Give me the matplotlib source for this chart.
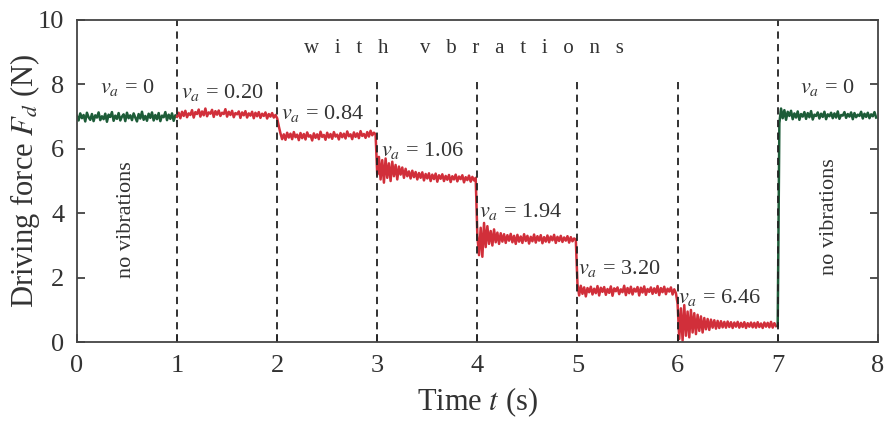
import numpy as np
import matplotlib
matplotlib.use("Agg")
from matplotlib import pyplot as plt

plt.rcParams["font.family"] = ["Liberation Serif", "DejaVu Serif"]
plt.rcParams["mathtext.fontset"] = "stix"

# force readings (N), 60 samples per one-second segment
seg0 = [7.02, 6.88, 7.10, 6.95, 7.05, 6.85, 7.12, 6.98, 6.90, 7.08, 6.86, 7.04, 6.97, 7.13, 6.89,
        7.01, 6.92, 7.09, 6.84, 7.06, 6.99, 7.14, 6.87, 7.03, 6.93, 7.11, 6.88, 7.00, 7.07, 6.86,
        7.12, 6.95, 7.04, 6.89, 7.10, 6.97, 6.85, 7.08, 6.94, 7.15, 6.90, 7.02, 6.87, 7.09, 6.96,
        7.13, 6.88, 7.05, 6.92, 7.11, 6.86, 7.03, 6.98, 7.14, 6.89, 7.06, 6.93, 7.10, 6.87, 7.04]
seg1 = [7.00, 7.12, 6.95, 7.15, 7.02, 7.18, 6.98, 7.10, 7.05, 7.20, 6.97, 7.14, 7.08, 7.22, 7.00,
        7.16, 7.04, 7.25, 7.01, 7.13, 7.09, 7.21, 6.99, 7.17, 7.06, 7.19, 7.02, 7.12, 7.08, 7.23,
        7.00, 7.15, 7.05, 7.18, 6.98, 7.11, 7.07, 7.16, 6.96, 7.13, 7.04, 7.17, 6.97, 7.10, 7.03,
        7.15, 6.95, 7.12, 7.01, 7.14, 6.96, 7.09, 7.02, 7.13, 6.94, 7.08, 7.00, 7.11, 6.97, 7.05]
seg2 = [6.95, 6.70, 6.48, 6.30, 6.45, 6.28, 6.50, 6.35, 6.47, 6.30, 6.52, 6.36, 6.44, 6.27, 6.49,
        6.33, 6.46, 6.29, 6.51, 6.38, 6.42, 6.26, 6.48, 6.34, 6.45, 6.30, 6.53, 6.37, 6.43, 6.28,
        6.50, 6.35, 6.46, 6.31, 6.52, 6.38, 6.44, 6.29, 6.49, 6.36, 6.47, 6.32, 6.54, 6.39, 6.45,
        6.30, 6.51, 6.37, 6.48, 6.33, 6.55, 6.40, 6.46, 6.34, 6.52, 6.38, 6.56, 6.42, 6.50, 6.45]
seg3 = [5.20, 5.75, 5.05, 5.65, 4.95, 5.70, 5.10, 5.55, 5.00, 5.60, 5.15, 5.50, 5.05, 5.45, 5.20,
        5.42, 5.10, 5.38, 5.15, 5.30, 5.08, 5.32, 5.12, 5.28, 5.05, 5.25, 5.10, 5.27, 5.02, 5.22,
        5.08, 5.24, 5.00, 5.20, 5.06, 5.23, 4.98, 5.18, 5.07, 5.21, 5.00, 5.16, 5.04, 5.19, 4.97,
        5.15, 5.05, 5.20, 4.99, 5.14, 5.06, 5.18, 4.96, 5.12, 5.03, 5.17, 4.98, 5.13, 5.02, 5.10]
seg4 = [3.30, 2.70, 3.55, 2.65, 3.70, 2.95, 3.60, 3.05, 3.45, 3.00, 3.50, 3.10, 3.40, 3.05, 3.38,
        3.12, 3.35, 3.08, 3.32, 3.15, 3.36, 3.10, 3.30, 3.05, 3.33, 3.12, 3.28, 3.08, 3.35, 3.14,
        3.30, 3.06, 3.27, 3.13, 3.34, 3.09, 3.29, 3.15, 3.32, 3.07, 3.26, 3.12, 3.31, 3.10, 3.28,
        3.16, 3.33, 3.08, 3.27, 3.14, 3.30, 3.11, 3.25, 3.15, 3.29, 3.09, 3.26, 3.13, 3.22, 3.18]
seg5 = [1.80, 1.45, 1.75, 1.50, 1.70, 1.42, 1.68, 1.55, 1.72, 1.48, 1.66, 1.52, 1.74, 1.45, 1.69,
        1.56, 1.71, 1.47, 1.65, 1.53, 1.73, 1.44, 1.67, 1.58, 1.70, 1.49, 1.64, 1.55, 1.75, 1.46,
        1.68, 1.52, 1.72, 1.48, 1.66, 1.57, 1.71, 1.45, 1.69, 1.54, 1.73, 1.47, 1.65, 1.56, 1.70,
        1.50, 1.67, 1.53, 1.74, 1.46, 1.68, 1.55, 1.72, 1.49, 1.66, 1.57, 1.70, 1.48, 1.64, 1.52]
seg6 = [1.20, 0.10, 1.05, 0.05, 1.15, 0.20, 0.95, 0.15, 1.00, 0.30, 0.90, 0.25, 0.85, 0.35, 0.80,
        0.30, 0.75, 0.40, 0.72, 0.38, 0.70, 0.45, 0.68, 0.42, 0.66, 0.44, 0.65, 0.46, 0.63, 0.45,
        0.64, 0.47, 0.62, 0.44, 0.61, 0.48, 0.63, 0.45, 0.60, 0.47, 0.62, 0.44, 0.59, 0.48, 0.61,
        0.46, 0.60, 0.45, 0.62, 0.47, 0.58, 0.44, 0.61, 0.48, 0.60, 0.46, 0.63, 0.45, 0.59, 0.50]
seg7 = [0.50, 6.80, 7.25, 6.95, 7.20, 6.90, 7.15, 7.02, 7.18, 6.92, 7.10, 6.97, 7.16, 6.90, 7.08,
        7.00, 7.14, 6.93, 7.11, 6.98, 7.17, 6.91, 7.06, 7.02, 7.13, 6.94, 7.09, 6.99, 7.15, 6.92,
        7.07, 7.01, 7.12, 6.95, 7.10, 6.97, 7.16, 6.93, 7.05, 7.03, 7.14, 6.96, 7.08, 7.00, 7.13,
        6.92, 7.11, 6.98, 7.06, 7.02, 7.15, 6.94, 7.09, 6.99, 7.12, 6.95, 7.07, 7.01, 7.14, 6.97]

speed_labels = ["0", "0.20", "0.84", "1.06", "1.94", "3.20", "6.46", "0"]
label_x = [0.5, 1.45, 2.45, 3.45, 4.43, 5.42, 6.42, 7.5]
label_y = [7.9, 7.75, 7.1, 5.95, 4.05, 2.3, 1.4, 7.9]

segments = [seg0, seg1, seg2, seg3, seg4, seg5, seg6, seg7]
times = [np.linspace(k, k + 1, len(s), endpoint=False) for k, s in enumerate(segments)]

green = "#1d5c38"
red = "#d12f3a"
txt = "#333333"

fig = plt.figure(figsize=(8.84, 4.24), dpi=100)
ax = fig.add_axes([0.087, 0.193, 0.906, 0.760])

# no-vibration parts in green, vibration parts in red
ax.plot(np.append(times[0], 1.0), seg0 + [seg1[0]], color=green, lw=1.8)
ax.plot(np.concatenate(times[1:7]), sum(segments[1:7], []), color=red, lw=1.8)
ax.plot(times[7], seg7, color=green, lw=1.8)

# dashed separators
for x in [1, 7]:
    ax.axvline(x, color="#222222", lw=1.3, ls=(0, (4, 3)))
for x in [2, 3, 4, 5, 6]:
    ax.plot([x, x], [0, 8.1], color="#222222", lw=1.3, ls=(0, (4, 3)))

for x, y, s in zip(label_x, label_y, speed_labels):
    ax.text(x, y, r"$v_a$ = " + s, fontsize=16, color=txt, ha="center", va="center")

ax.text(3.87, 9.1, "w   i   t   h      v   b   r   a   t   i   o   n   s", fontsize=15,
        color=txt, ha="center", va="center")
ax.text(0.5, 3.8, "no vibrations", fontsize=16, color=txt, rotation=90, ha="center", va="center")
ax.text(7.52, 3.9, "no vibrations", fontsize=16, color=txt, rotation=90, ha="center", va="center")

ax.set_xlim(0, 8)
ax.set_ylim(0, 10)
ax.set_xticks(range(0, 9))
ax.set_yticks(range(0, 11, 2))
ax.tick_params(direction="in", right=True, labelsize=19, colors=txt, length=6, width=1.2, pad=9)
for sp in ax.spines.values():
    sp.set_color("#444444")
    sp.set_linewidth(1.3)

ax.set_xlabel(r"Time $t$ (s)", fontsize=22, color=txt, labelpad=6)
ax.set_ylabel(r"Driving force $F_d$ (N)", fontsize=22, color=txt)
ax.yaxis.set_label_coords(-0.044, 0.5)

fig.savefig("out.png", dpi=100)
